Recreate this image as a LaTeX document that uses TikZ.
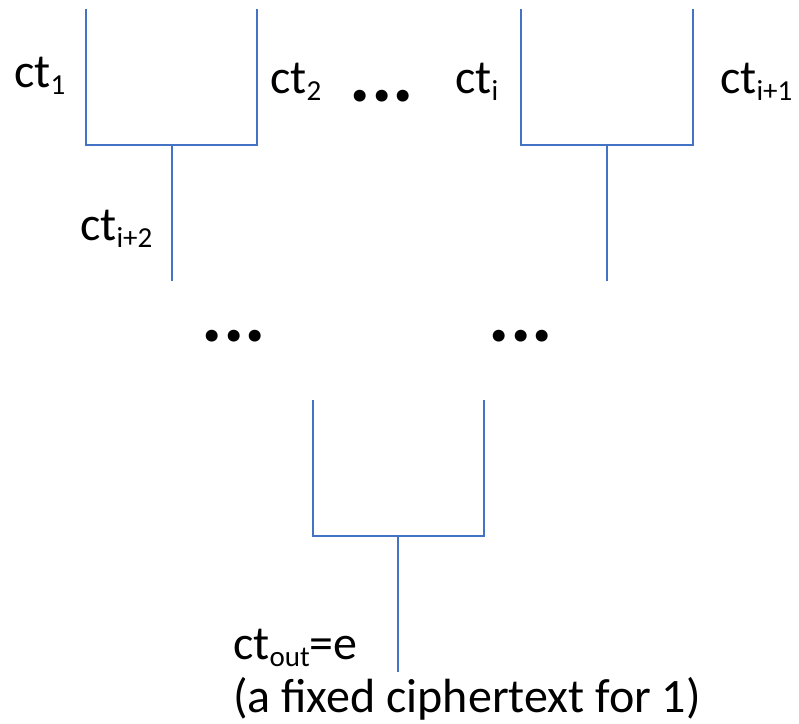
\documentclass[tikz,border=0pt]{standalone}
\usepackage{fontspec}
\setmainfont{Carlito}
\definecolor{wireblue}{HTML}{4472C4}
\newcommand\ctsub[1]{\raisebox{-0.16em}{\fontsize{29}{29}\selectfont #1}}

\begin{document}
\begin{tikzpicture}
	[x=1pt, y=-1pt,
		containsText/.style	={font=\fontsize{48}{54}\selectfont
									, inner sep=0pt
									},
		label/.style			={containsText
									, anchor=base west
									},
		dots/.style			={font=\fontsize{80}{82}\selectfont\bfseries
									, inner sep=0pt
									, anchor=base
									},
		wire/.style			={draw=wireblue
									, line width=1.1pt
									}
	]
\useasboundingbox (0,0) rectangle (799,723);

% first pair
\coordinate (in1)  at (86,9);
\coordinate (in2)  at (257,9);
\coordinate (mid1) at (172,145);
\coordinate (out1) at (172,281);
% second pair
\coordinate (ini)  at (521,9);
\coordinate (inj)  at (693,9);
\coordinate (mid2) at (607,145);
\coordinate (out2) at (607,281);
% last pair
\coordinate (inl)  at (313,400);
\coordinate (inr)  at (484,400);
\coordinate (mid3) at (398,536);
\coordinate (root) at (398,672);

\node [label] (ct 1)	at (14,87)	{ct\ctsub{1}};
\node [label] (ct 2)	at (270,93)	{ct\ctsub{2}};
\node [label] (ct i)	at (455,93)	{ct\ctsub{i}};
\node [label] (ct i1)	at (720,93)	{ct\ctsub{i+1}};
\node [label] (ct i2)	at (80,240)	{ct\ctsub{i+2}};
\node [label] (ct out)	at (233,659)	{ct\ctsub{out}=e};
\node [label] (fixed)	at (233,712)	{(a fixed ciphertext for 1)};

\node [dots] (dots top)		at (382,101)	{...};
\node [dots] (dots left)	at (234,341)	{...};
\node [dots] (dots right)	at (521,341)	{...};

\begin{scope}[every path/.style=wire]
	\path	(in1)	|- (mid1) -| (in2);
	\path	(mid1)	-- (out1);
	\path	(ini)	|- (mid2) -| (inj);
	\path	(mid2)	-- (out2);
	\path	(inl)	|- (mid3) -| (inr);
	\path	(mid3)	-- (root);
\end{scope}
\end{tikzpicture}
\end{document}
